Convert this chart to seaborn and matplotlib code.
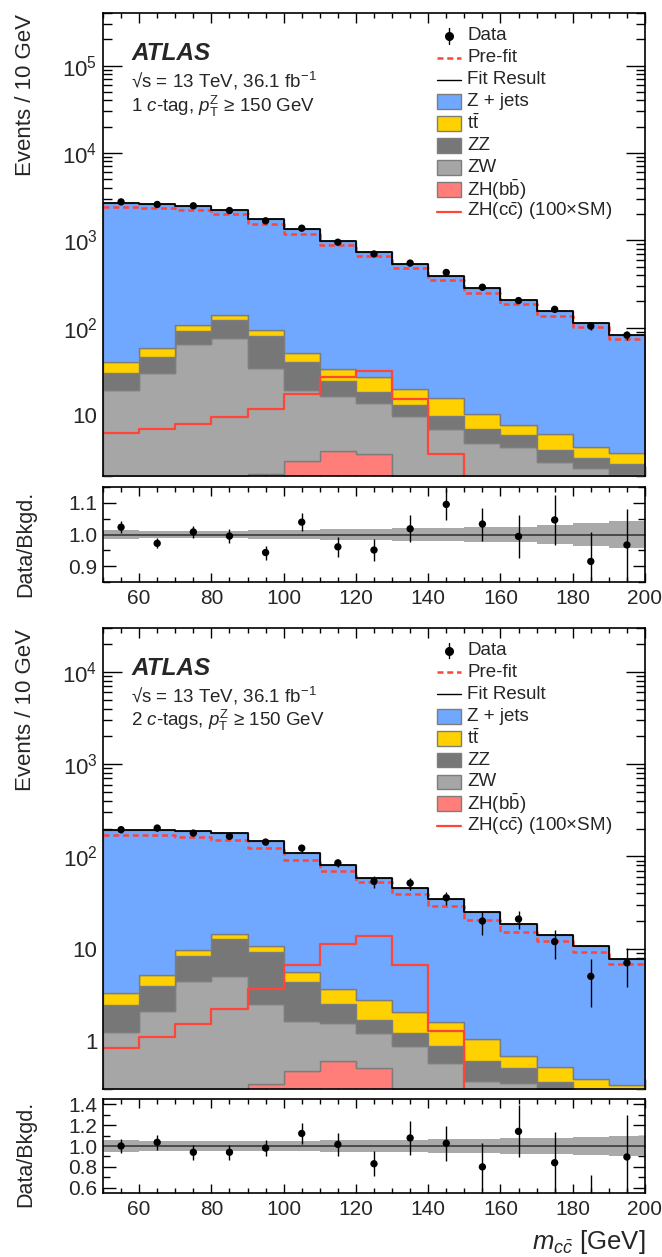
import numpy as np
import pandas as pd
import matplotlib
matplotlib.use("Agg")
import matplotlib.pyplot as plt
import seaborn as sns
from matplotlib.ticker import (FixedLocator, FuncFormatter, MultipleLocator,
                               LogLocator, NullFormatter, FormatStrFormatter)
from matplotlib.patches import Rectangle
from matplotlib.lines import Line2D
from matplotlib.transforms import Bbox, TransformedBbox

# ------------------------------------------------------------------ data
bin_edges = [50, 60, 70, 80, 90, 100, 110, 120, 130, 140, 150, 160, 170, 180, 190, 200]
bin_centers = [55, 65, 75, 85, 95, 105, 115, 125, 135, 145, 155, 165, 175, 185, 195]

process_names = ["Z + jets", r"t$\bar{\mathrm{t}}$", "ZZ", "ZW", r"ZH(b$\bar{\mathrm{b}}$)"]

# ---- 1 c-tag region
zjets_1c = [2650, 2542, 2373, 2072, 1667, 1279, 941, 701, 515, 373, 271, 198, 148, 109, 79]
ttbar_1c = [10.0, 12.4, 15.4, 17.0, 13.0, 11.0, 9.4, 8.5, 6.9, 5.8, 3.5, 1.8, 2.1, 1.05, 1.0]
zz_1c = [10.7, 15.0, 27.3, 45.7, 45.6, 20.6, 8.1, 4.8, 3.25, 2.84, 2.13, 1.52, 1.05, 0.79, 0.60]
zw_1c = [18.9, 30.1, 63.5, 74.0, 32.3, 16.4, 12.6, 10.1, 8.25, 5.96, 4.12, 3.92, 2.58, 2.24, 1.96]
zhbb_1c = [0.3, 0.5, 0.8, 1.3, 2.1, 2.96, 3.86, 3.53, 1.5, 1.0, 0.6, 0.4, 0.3, 0.2, 0.15]
prefit_1c = [2415, 2350, 2230, 1990, 1540, 1195, 890, 655, 480, 353, 248, 184, 136, 102, 75]
zhcc_1c = [6.27, 6.84, 7.94, 9.5, 11.8, 17.3, 26.9, 31.5, 15.1, 3.59, 0.5, 0.3, 0.2, 0.1, 0.05]
data_1c = [2750, 2570, 2480, 2190, 1670, 1375, 950, 697, 548, 428, 290, 204, 162, 104, 82]
ratio_1c = [1.023, 0.972, 1.008, 0.995, 0.943, 1.039, 0.961, 0.951, 1.018, 1.095, 1.033, 0.994, 1.046, 0.915, 0.967]
ratio_err_1c = [0.019, 0.016, 0.018, 0.021, 0.022, 0.028, 0.032, 0.036, 0.043, 0.05, 0.052, 0.069, 0.078, 0.093, 0.115]
band_1c = [0.014, 0.012, 0.012, 0.012, 0.013, 0.015, 0.016, 0.017, 0.019, 0.021, 0.023, 0.025, 0.029, 0.036, 0.044]

# ---- 2 c-tags region
zjets_2c = [191.7, 189.9, 177.3, 163.6, 135.3, 103.4, 76.4, 55.7, 43.0, 33.2, 23.6, 17.7, 13.6, 10.2, 7.42]
ttbar_2c = [0.84, 1.20, 1.36, 1.70, 1.50, 1.29, 1.12, 1.07, 0.83, 0.73, 0.45, 0.17, 0.163, 0.111, 0.113]
zz_2c = [1.16, 1.81, 3.92, 7.61, 6.7, 2.69, 0.95, 0.46, 0.35, 0.305, 0.23, 0.16, 0.103, 0.07, 0.06]
zw_2c = [1.20, 2.02, 4.27, 4.87, 2.16, 1.145, 0.95, 0.72, 0.61, 0.425, 0.27, 0.28, 0.20, 0.16, 0.13]
zhbb_2c = [0.06, 0.10, 0.15, 0.22, 0.34, 0.475, 0.60, 0.508, 0.26, 0.15, 0.10, 0.07, 0.05, 0.04, 0.03]
prefit_2c = [169, 170, 163, 149, 123, 91, 69, 53, 39.4, 29, 20.5, 15.2, 12, 9.1, 6.85]
zhcc_2c = [0.834, 1.11, 1.52, 2.21, 3.69, 6.56, 11.3, 13.6, 6.61, 1.28, 0.1, 0.08, 0.06, 0.05, 0.04]
data_2c = [195, 203, 179, 165, 143, 123, 85, 53.5, 51.3, 35.6, 19.9, 20.9, 11.9, 5.0, 7.0]
ratio_2c = [1.0, 1.035, 0.94, 0.94, 0.98, 1.12, 1.015, 0.83, 1.077, 1.026, 0.80, 1.14, 0.84, 0.47, 0.895]
ratio_err_2c = [0.07, 0.07, 0.07, 0.07, 0.08, 0.1, 0.11, 0.12, 0.16, 0.17, 0.23, 0.25, 0.29, 0.25, 0.4]
band_2c = [0.055, 0.05, 0.05, 0.05, 0.05, 0.052, 0.055, 0.058, 0.062, 0.066, 0.07, 0.074, 0.08, 0.088, 0.1]

# ------------------------------------------------------------------ style
sns.set_theme(style="ticks")
plt.rcParams["font.family"] = ["Liberation Sans", "DejaVu Sans"]
plt.rcParams["mathtext.fontset"] = "custom"
plt.rcParams["mathtext.rm"] = "Liberation Sans"
plt.rcParams["mathtext.it"] = "Liberation Sans:italic"
plt.rcParams["mathtext.bf"] = "Liberation Sans:bold"

C_BLUE = "#70a7ff"
C_YELLOW = "#ffd100"
C_ZZ = "#777777"
C_ZW = "#a6a6a6"
C_BB = "#ff7e79"
C_RED = "#ff4438"
C_EDGE = "#7d7d7d"
palette = dict(zip(process_names, [C_BLUE, C_YELLOW, C_ZZ, C_ZW, C_BB]))

W, H = 662, 1257
fig = plt.figure(figsize=(W / 100, H / 100), dpi=100)
left = 103 / W
width = 542 / W


def fax(top_px, bot_px):
    return fig.add_axes([left, 1 - bot_px / H, width, (bot_px - top_px) / H])


def log_fmt(v, pos):
    e = int(round(np.log10(v)))
    if e == 0:
        return "1"
    if e == 1:
        return "10"
    return r"$10^{%d}$" % e


def draw_main(ax, comps, prefit, zhcc, data, ratio, ratio_err, ylim, region_text):
    rows = []
    for name, vals in zip(process_names, comps):
        for c, v in zip(bin_centers, vals):
            rows.append({"mass": c, "events": v, "process": name})
    df = pd.DataFrame(rows)

    sns.histplot(data=df, x="mass", weights="events", hue="process",
                 hue_order=process_names, palette=palette, bins=bin_edges,
                 multiple="stack", element="step", fill=True, alpha=1,
                 linewidth=0, legend=False, ax=ax, zorder=1)
    for coll in ax.collections:
        coll.set_edgecolor(C_EDGE)
        coll.set_linewidth(1.0)

    # pre-fit (dashed), fit result (total), signal
    sns.histplot(x=bin_centers, weights=prefit, bins=bin_edges, element="step",
                 fill=False, color=C_RED, linewidth=1.8,
                 linestyle=(0, (2.4, 1.5)), ax=ax, zorder=3)
    sns.histplot(data=df, x="mass", weights="events", bins=bin_edges,
                 element="step", fill=False, color="black", linewidth=1.3,
                 ax=ax, zorder=3)
    sns.histplot(x=bin_centers, weights=zhcc, bins=bin_edges, element="step",
                 fill=False, color=C_RED, linewidth=1.6, ax=ax, zorder=4)

    d = np.array(data)
    yerr = d * np.array(ratio_err) / np.array(ratio)
    ax.errorbar(bin_centers, data, yerr=yerr, fmt="none", ecolor="black",
                elinewidth=1.0, zorder=5)
    sns.scatterplot(x=bin_centers, y=data, color="black", s=28,
                    edgecolor="none", zorder=6, ax=ax, legend=False)

    ax.set_yscale("log")
    ax.set_xlim(50, 200)
    ax.set_ylim(*ylim)
    ax.set_xlabel("")
    ax.set_ylabel("")

    ax.xaxis.set_major_locator(MultipleLocator(20))
    ax.xaxis.set_minor_locator(MultipleLocator(5))
    ax.yaxis.set_major_locator(LogLocator(base=10, numticks=20))
    ax.yaxis.set_minor_locator(LogLocator(base=10, subs=np.arange(2, 10), numticks=20))
    ax.yaxis.set_major_formatter(FuncFormatter(log_fmt))
    ax.yaxis.set_minor_formatter(NullFormatter())
    ax.tick_params(which="both", direction="in", top=True, right=True,
                   labelbottom=False, color="black", width=1.0)
    ax.tick_params(axis="y", which="major", length=14, labelsize=16, pad=4)
    ax.tick_params(axis="y", which="minor", length=6.5)
    ax.tick_params(axis="x", which="major", length=7)
    ax.tick_params(axis="x", which="minor", length=3.6)
    for sp in ax.spines.values():
        sp.set_linewidth(1.2)
        sp.set_color("black")
        sp.set_zorder(10)

    # labels
    tr = ax.transAxes
    ax.text(0.052, 0.912, "ATLAS", transform=tr, fontsize=17.5,
            fontweight="bold", fontstyle="italic", va="center", ha="left")
    ax.text(0.052, 0.853, r"√s = 13 TeV, 36.1 fb$^{\mathregular{-1}}$",
            transform=tr, fontsize=13.5, va="center", ha="left")
    ax.text(0.052, 0.799, region_text, transform=tr, fontsize=13.5,
            va="center", ha="left")

    # legend
    px = 0.616
    pw = 0.045
    ph = 0.032
    tx = 0.672
    y0 = 0.951
    dy = 0.0475
    labels = ["Data", "Pre-fit", "Fit Result"] + process_names + \
             [r"ZH(c$\bar{\mathrm{c}}$) (100×SM)"]
    for i, lab in enumerate(labels):
        y = y0 - i * dy
        if i == 0:
            ax.add_line(Line2D([px + pw / 2] * 2, [y - 0.017, y + 0.017],
                               transform=tr, color="black", lw=1.0))
            ax.add_line(Line2D([px + pw / 2], [y], transform=tr, marker="o",
                               color="black", markersize=5.5, lw=0))
        elif i == 1:
            ax.add_line(Line2D([px, px + pw], [y, y], transform=tr, color=C_RED,
                               lw=1.8, linestyle=(0, (2.4, 1.5))))
        elif i == 2:
            ax.add_line(Line2D([px, px + pw], [y, y], transform=tr,
                               color="black", lw=1.0))
        elif i == len(labels) - 1:
            ax.add_line(Line2D([px, px + pw], [y, y], transform=tr,
                               color=C_RED, lw=1.6))
        else:
            ax.add_patch(Rectangle((px, y - ph / 2), pw, ph, transform=tr,
                                   facecolor=palette[lab], edgecolor=C_EDGE,
                                   lw=1.0, zorder=8))
        ax.text(tx, y, lab, transform=tr, fontsize=13.5, va="center", ha="left")


def draw_ratio(ax, ratio, ratio_err, band, ylim, majors, minor_step):
    lo = [1 - b for b in band]
    hi = [1 + b for b in band]
    ax.fill_between(bin_edges, lo + [lo[-1]], hi + [hi[-1]], step="post",
                    color="#a9a9a9", lw=0, zorder=1)
    ax.axhline(1.0, color="#4a4a4a", lw=1.4, zorder=2)
    ax.errorbar(bin_centers, ratio, yerr=ratio_err, fmt="none",
                ecolor="black", elinewidth=1.0, zorder=4)
    sns.scatterplot(x=bin_centers, y=ratio, color="black", s=28,
                    edgecolor="none", zorder=5, ax=ax, legend=False)
    ax.set_xlim(50, 200)
    ax.set_ylim(*ylim)
    ax.set_xlabel("")
    ax.set_ylabel("")
    ax.xaxis.set_major_locator(MultipleLocator(20))
    ax.xaxis.set_minor_locator(MultipleLocator(5))
    ax.yaxis.set_major_locator(FixedLocator(majors))
    ax.yaxis.set_minor_locator(MultipleLocator(minor_step))
    ax.yaxis.set_major_formatter(FormatStrFormatter("%.1f"))
    ax.tick_params(which="both", direction="in", top=True, right=True,
                   color="black", width=1.0)
    ax.tick_params(axis="y", which="major", length=9, labelsize=15, pad=4)
    ax.tick_params(axis="y", which="minor", length=5)
    ax.tick_params(axis="x", which="major", length=6.5, labelsize=15, pad=5)
    ax.tick_params(axis="x", which="minor", length=3.6)
    for sp in ax.spines.values():
        sp.set_linewidth(1.2)
        sp.set_color("black")
        sp.set_zorder(10)


# ------------------------------------------------------------------ panels
ax1 = fax(13, 476)
ax1r = fax(487, 582)
ax2 = fax(628, 1089)
ax2r = fax(1099, 1193)

draw_main(ax1, [zjets_1c, ttbar_1c, zz_1c, zw_1c, zhbb_1c], prefit_1c, zhcc_1c,
          data_1c, ratio_1c, ratio_err_1c, (2, 4e5),
          r"1 $c$-tag, $p_{\mathrm{T}}^{\mathrm{Z}}$ ≥ 150 GeV")
draw_ratio(ax1r, ratio_1c, ratio_err_1c, band_1c, (0.85, 1.15),
           [0.9, 1.0, 1.1], 0.05)

draw_main(ax2, [zjets_2c, ttbar_2c, zz_2c, zw_2c, zhbb_2c], prefit_2c, zhcc_2c,
          data_2c, ratio_2c, ratio_err_2c, (0.3, 3e4),
          r"2 $c$-tags, $p_{\mathrm{T}}^{\mathrm{Z}}$ ≥ 150 GeV")
draw_ratio(ax2r, ratio_2c, ratio_err_2c, band_2c, (0.55, 1.45),
           [0.6, 0.8, 1.0, 1.2, 1.4], 0.1)

# axis titles
xl = 26 / W
fig.text(xl, 1 - 14 / H, "Events / 10 GeV", rotation=90, va="top", ha="center",
         fontsize=16)
fig.text(xl, 1 - 629 / H, "Events / 10 GeV", rotation=90, va="top", ha="center",
         fontsize=16)
t1 = fig.text(xl, 1 - 491 / H, "Data/Bkgd.", rotation=90, va="top",
              ha="center", fontsize=15.5)
t1.set_clip_box(TransformedBbox(Bbox([[0, 1 - 600 / H], [1, 1]]), fig.transFigure))
t1.set_clip_on(True)
fig.text(xl, 1 - 1101 / H, "Data/Bkgd.", rotation=90, va="top", ha="center",
         fontsize=15.5)
fig.text(645 / W, 1 - 1228 / H, r"$m_{c\bar{c}}$ [GeV]", ha="right", va="top",
         fontsize=18.5)

fig.savefig("out.png", dpi=100)
